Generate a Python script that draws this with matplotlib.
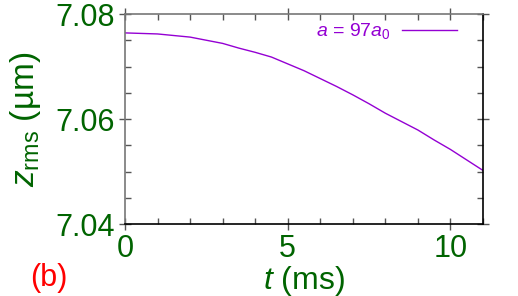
import matplotlib
matplotlib.use("Agg")
import matplotlib.pyplot as plt
from matplotlib.ticker import MultipleLocator

# curve
t_ms = [0, 1, 2, 3, 3.5, 4, 4.5, 5, 5.5, 6, 6.5, 7, 7.5, 8, 8.5, 9, 9.5,
        10, 10.5, 11]
z_rms = [7.0764, 7.0762, 7.0756, 7.0744, 7.0735, 7.0727, 7.0718, 7.0705,
         7.0692, 7.0677, 7.0662, 7.0646, 7.0629, 7.0611, 7.0595, 7.0579,
         7.0560, 7.0542, 7.0522, 7.0502]
xticks = [0, 5, 10]
yticks = [7.04, 7.06, 7.08]
ytick_labels = ["7.04", "7.06", "7.08"]

green = "#006400"
violet = "#9400d3"
plt.rcParams["font.family"] = ["Liberation Sans", "DejaVu Sans"]
plt.rcParams["mathtext.fontset"] = "custom"
plt.rcParams["mathtext.it"] = "Liberation Sans:italic"
plt.rcParams["mathtext.rm"] = "Liberation Sans"

fig = plt.figure(figsize=(5.18, 2.96), dpi=100)
ax = fig.add_axes([125/518, 1 - 224/296, 358/518, 210/296])

ax.plot(t_ms, z_rms, color=violet, lw=1.0, label=r"$a$ = 97$a_0$")

ax.set_xlim(0, 11)
ax.set_ylim(7.04, 7.08)
ax.set_xticks(xticks)
ax.set_yticks(yticks)
ax.set_yticklabels(ytick_labels)
ax.xaxis.set_minor_locator(MultipleLocator(1))
ax.yaxis.set_minor_locator(MultipleLocator(0.005))
ax.tick_params(which="both", top=True, right=True, colors="#555555",
               labelcolor=green, labelsize=22)
ax.tick_params(which="major", direction="inout", length=8, width=1)
ax.tick_params(which="minor", direction="in", length=4, width=1)
ax.tick_params(axis="x", pad=3)
ax.tick_params(axis="y", pad=3)

for side in ["left", "top"]:
    ax.spines[side].set_color("#777777")
for side in ["bottom", "right"]:
    ax.spines[side].set_color("black")
for s in ax.spines.values():
    s.set_linewidth(1.2)

ax.set_xlabel(r"$t$ (ms)", color=green, fontsize=23, labelpad=0)
ax.set_ylabel(r"$z_{\rm rms}$ (µm)", color=green, fontsize=24, labelpad=9)

leg = ax.legend(loc="upper right", bbox_to_anchor=(0.927, 0.965),
                frameon=False, fontsize=14, markerfirst=False,
                handlelength=2.8, borderaxespad=0, borderpad=0,
                handletextpad=0.6)
for txt in leg.get_texts():
    txt.set_color(violet)

fig.text(30/518, 1 - 278/296, "(b)", color="red", fontsize=22, va="center")

fig.savefig("out.png", dpi=100)
